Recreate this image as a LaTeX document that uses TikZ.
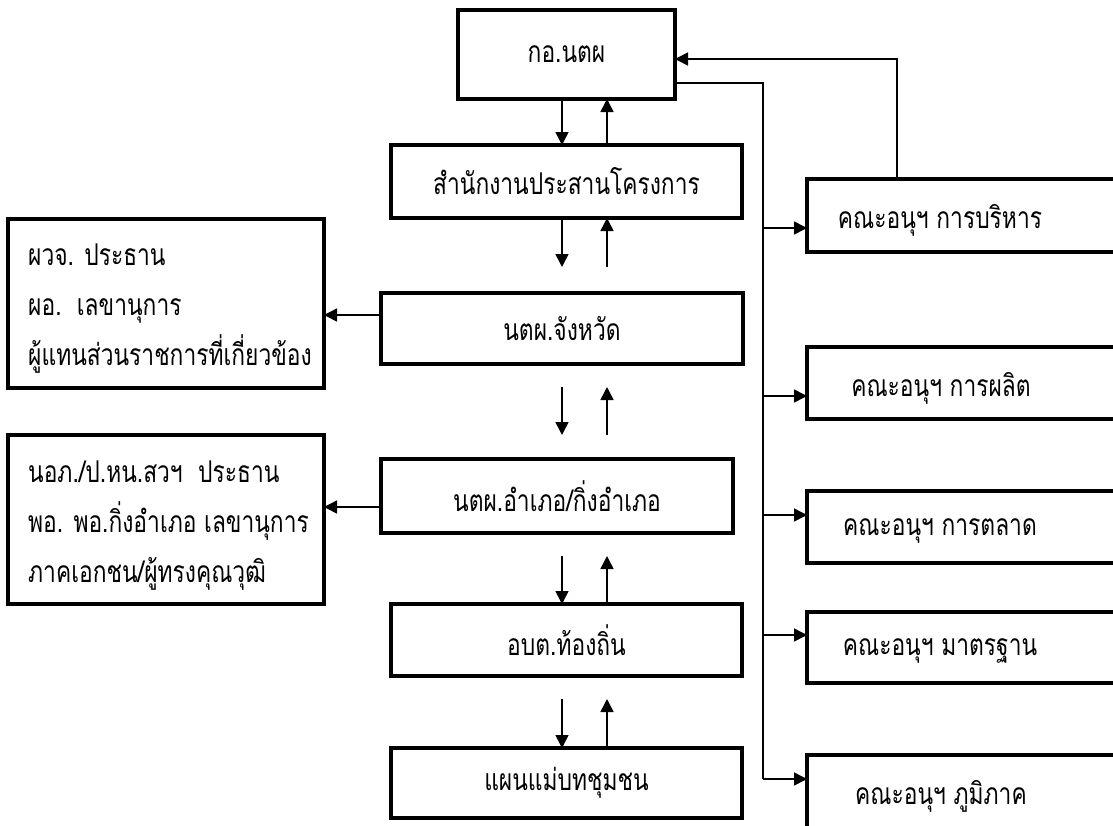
\documentclass[tikz,border=0pt]{standalone}
\usepackage{fontspec}
\newfontfamily\thaifont[Script=Thai,FakeStretch=0.76]{Loma}
\usetikzlibrary{arrows.meta}
\begin{document}
\begin{tikzpicture}[x=1pt,y=-1pt,
  box/.style={draw, line width=3.3pt, rectangle, inner sep=0pt, outer sep=0pt,
    font=\thaifont\fontsize{30}{50}\selectfont},
  lbox/.style={box, minimum width=316pt, minimum height=169pt},
  ltxt/.style={inner sep=0pt, anchor=west, align=left, font=\thaifont\fontsize{30}{50}\selectfont},
  rbox/.style={box, minimum width=318pt},
  rtxt/.style={inner sep=0pt, font=\thaifont\fontsize{30}{36}\selectfont},
  conn/.style={line width=1.6pt},
  arr/.style={conn, -{Triangle[length=13pt,width=13pt]}}]
\clip (0,0) rectangle (1113,825);
% centre column
\node[box, minimum width=217pt, minimum height=89pt] (top) at (566.5,54.5) {กอ.นตผ};
\node[box, minimum width=351pt, minimum height=73pt] (office) at (566.5,181.5) {สำนักงานประสานโครงการ};
\node[box, minimum width=362pt, minimum height=71pt] (prov) at (562,328.5) {นตผ.จังหวัด};
\node[box, minimum width=352pt, minimum height=74pt] (dist) at (557,496) {นตผ.อำเภอ/กิ่งอำเภอ};
\node[box, minimum width=351pt, minimum height=72pt] (tao) at (566.5,640) {อบต.ท้องถิ่น};
\node[box, minimum width=351pt, minimum height=70pt] (plan) at (566.5,783) {แผนแม่บทชุมชน};
% left boxes
\node[lbox] (lb1) at (166,303.5) {};
\node[lbox] (lb2) at (166,519.5) {};
\node[ltxt] (lt1) at (28,309) {ผวจ. ประธาน\\ผอ.\ \ เลขานุการ\\ผู้แทนส่วนราชการที่เกี่ยวข้อง};
\node[ltxt] (lt2) at (28,526) {นอภ./ป.หน.สวฯ\ \ ประธาน\\พอ. พอ.กิ่งอำเภอ เลขานุการ\\ภาคเอกชน/ผู้ทรงคุณวุฒิ};
% right boxes
\node[rbox, minimum height=73pt] (r1) at (966,215.5) {};
\node[rbox, minimum height=72pt] (r2) at (966,383) {};
\node[rbox, minimum height=72pt] (r3) at (966,527) {};
\node[rbox, minimum height=71pt] (r4) at (966,647.5) {};
\node[rbox, minimum height=80pt] (r5) at (966,795) {};
\node[rtxt] (t1) at (940,220) {คณะอนุฯ การบริหาร};
\node[rtxt] (t2) at (941,388) {คณะอนุฯ การผลิต};
\node[rtxt] (t3) at (940,531) {คณะอนุฯ การตลาด};
\node[rtxt] (t4) at (940,651) {คณะอนุฯ มาตรฐาน};
\node[rtxt] (t5) at (941,796) {คณะอนุฯ ภูมิภาค};
% helper coordinates
\coordinate (dn) at (562,0);
\coordinate (up) at (607,0);
\coordinate (g1) at (0,267);
\coordinate (g2a) at (0,387);
\coordinate (g2b) at (0,435);
\coordinate (g3) at (0,556);
\coordinate (g4) at (0,699);
% vertical arrows
\draw[arr] (top.south -| dn) -- (office.north -| dn);
\draw[arr] (office.north -| up) -- (top.south -| up);
\draw[arr] (office.south -| dn) -- (g1 -| dn);
\draw[arr] (g1 -| up) -- (office.south -| up);
\draw[arr] (g2a -| dn) -- (g2b -| dn);
\draw[arr] (g2b -| up) -- (g2a -| up);
\draw[arr] (g3 -| dn) -- (tao.north -| dn);
\draw[arr] (tao.north -| up) -- (g3 -| up);
\draw[arr] (g4 -| dn) -- (plan.north -| dn);
\draw[arr] (plan.north -| up) -- (g4 -| up);
% left arrows
\coordinate (a1) at (0,315);
\coordinate (a2) at (0,507);
\draw[arr] (a1 -| prov.west) -- (a1 -| lb1.east);
\draw[arr] (a2 -| dist.west) -- (a2 -| lb2.east);
% right trunk
\coordinate (tr) at (763,83);
\coordinate (b1) at (763,228);
\coordinate (b2) at (763,396);
\coordinate (b3) at (763,515);
\coordinate (b4) at (763,635);
\coordinate (b5) at (763,779);
\draw[conn] (top.east |- tr) -- (tr) -- (b5);
\draw[arr] (b1) -- (b1 -| r1.west);
\draw[arr] (b2) -- (b2 -| r2.west);
\draw[arr] (b3) -- (b3 -| r3.west);
\draw[arr] (b4) -- (b4 -| r4.west);
\draw[arr] (b5) -- (b5 -| r5.west);
% feedback
\coordinate (fb) at (897,59);
\draw[arr] (r1.north -| fb) -- (fb) -- (fb -| top.east);
\end{tikzpicture}
\end{document}
